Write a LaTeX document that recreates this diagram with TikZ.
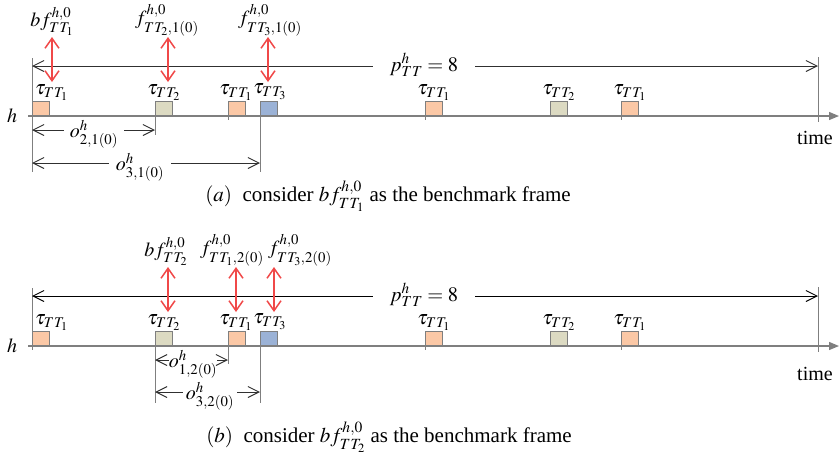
\documentclass[tikz,border=0pt]{standalone}
\usepackage{mathptmx}
\usepackage[no-math]{fontspec}
\setmainfont{Liberation Serif}
\usetikzlibrary{arrows.meta}
\definecolor{peach}{HTML}{FBC8A6}
\definecolor{khaki}{HTML}{DCDAC2}
\definecolor{steel}{HTML}{9BB2D6}
\definecolor{redar}{HTML}{F04848}
\definecolor{axisgray}{HTML}{7F7F7F}
\definecolor{dimcol}{HTML}{303030}
\begin{document}
\begin{tikzpicture}[x=1pt,y=-1pt,
  lbl/.style={font=\fontsize{20}{24}\selectfont,inner sep=1pt},
  biglbl/.style={font=\fontsize{20.5}{24}\selectfont,inner sep=1pt},
  caplbl/.style={font=\fontsize{21}{25}\selectfont,inner sep=1pt},
  axis/.style={draw=axisgray,line width=1.3pt,-{Triangle[length=10pt,width=8pt]}},
  guide/.style={draw=axisgray,line width=0.8pt},
  dim/.style={draw=dimcol,line width=1pt},
  dimL/.style={dim,{Straight Barb[length=11pt,width=11pt]}-},
  dimR/.style={dim,-{Straight Barb[length=11pt,width=11pt]}},
  redarr/.style={draw=redar,line width=1.5pt,{Straight Barb[length=10pt,width=14pt]}-{Straight Barb[length=10pt,width=14pt]}},
  taskbox/.style={draw=axisgray,line width=0.8pt,minimum width=17pt,minimum height=14pt,inner sep=0pt,anchor=south west},
  tlbl/.style={lbl,anchor=south}
]
\useasboundingbox (0,0) rectangle (839,456);

% ================= panel (a) =================
\node[lbl] (ah) at (12,116) {$h$};
\coordinate (aax0) at (28,116);
\coordinate (aax1) at (839,116);
\draw[axis] (aax0) -- (aax1);
\node[lbl] (atime) at (815,138) {time};

\node[taskbox,fill=peach] (a1) at (32,116) {};
\node[taskbox,fill=khaki] (a2) at (155,116) {};
\node[taskbox,fill=peach] (a3) at (228,116) {};
\node[taskbox,fill=steel] (a4) at (260,116) {};
\node[taskbox,fill=peach] (a5) at (425,116) {};
\node[taskbox,fill=khaki] (a6) at (550,116) {};
\node[taskbox,fill=peach] (a7) at (621,116) {};

\node[lbl,anchor=south west] (at1) at ([xshift=2pt]a1.north west) {$\tau_{TT_1}$};
\node[tlbl] (at2) at (a2.north) {$\tau_{TT_2}$};
\node[tlbl] (at3) at ([xshift=-1pt]a3.north) {$\tau_{TT_1}$};
\node[tlbl] (at4) at ([xshift=1pt]a4.north) {$\tau_{TT_3}$};
\node[tlbl] (at5) at (a5.north) {$\tau_{TT_1}$};
\node[tlbl] (at6) at (a6.north) {$\tau_{TT_2}$};
\node[tlbl] (at7) at (a7.north) {$\tau_{TT_1}$};

% guides
\coordinate (agL0) at (32,58);  \coordinate (agL1) at (32,172);
\coordinate (agR0) at (818,57); \coordinate (agR1) at (818,122);
\coordinate (ag2) at (155,135);
\coordinate (ag4) at (260,172);
\draw[guide] (agL0) -- (agL1);
\draw[guide] (agR0) -- (agR1);
\draw[guide] (a2.south west) -- (ag2);
\draw[guide] (a4.south west) -- (ag4);
\draw[guide] (a3.south west) -- ++(0,4);
\draw[guide] (a5.south west) -- ++(0,4);
\draw[guide] (a7.south west) -- ++(0,4);

% period
\coordinate (apL) at (32,66);
\coordinate (apR) at (818,66);
\node[biglbl,inner xsep=17pt] (ap) at (424,65) {$p^{h}_{TT}=8$};
\draw[dimL] (apL) -- (ap.west |- apL);
\draw[dimR] (ap.east |- apR) -- (apR);

% red arrows and frame labels
\coordinate (ar1t) at (52,37);  \coordinate (ar1b) at (52,82);
\coordinate (ar2t) at (168,37); \coordinate (ar2b) at (168,82);
\coordinate (ar3t) at (268,37); \coordinate (ar3b) at (268,82);
\draw[redarr] (ar1t) -- (ar1b);
\draw[redarr] (ar2t) -- (ar2b);
\draw[redarr] (ar3t) -- (ar3b);
\node[lbl,anchor=south] (af1) at (ar1t) {$bf^{h,0}_{TT_1}$};
\node[lbl,anchor=south] (af2) at (167,37) {$f^{h,0}_{TT_2,1(0)}$};
\node[lbl,anchor=south] (af3) at (270,37) {$f^{h,0}_{TT_3,1(0)}$};

% offsets
\coordinate (ao1L) at (32,130); \coordinate (ao1R) at (155,130);
\node[lbl,inner xsep=6pt] (ao1) at (94,134) {$o^{h}_{2,1(0)}$};
\draw[dimL] (ao1L) -- (ao1.west |- ao1L);
\draw[dimR] (ao1.east |- ao1R) -- (ao1R);
\coordinate (ao2L) at (32,163); \coordinate (ao2R) at (260,163);
\node[lbl,inner xsep=7pt] (ao2) at (140,167) {$o^{h}_{3,1(0)}$};
\draw[dimL] (ao2L) -- (ao2.west |- ao2L);
\draw[dimR] (ao2.east |- ao2R) -- (ao2R);

\node[caplbl] (acap) at (388,196) {$(a)$\ \ consider $bf^{h,0}_{TT_1}$ as the benchmark frame};

% ================= panel (b) =================
\node[lbl] (bh) at (12,346) {$h$};
\coordinate (bax0) at (28,346);
\coordinate (bax1) at (839,346);
\draw[axis] (bax0) -- (bax1);
\node[lbl] (btime) at (815,374) {time};

\node[taskbox,fill=peach] (b1) at (32,346) {};
\node[taskbox,fill=khaki] (b2) at (155,346) {};
\node[taskbox,fill=peach] (b3) at (228,346) {};
\node[taskbox,fill=steel] (b4) at (260,346) {};
\node[taskbox,fill=peach] (b5) at (425,346) {};
\node[taskbox,fill=khaki] (b6) at (550,346) {};
\node[taskbox,fill=peach] (b7) at (621,346) {};

\node[lbl,anchor=south west] (bt1) at ([xshift=2pt]b1.north west) {$\tau_{TT_1}$};
\node[tlbl] (bt2) at (b2.north) {$\tau_{TT_2}$};
\node[tlbl] (bt3) at ([xshift=-1pt]b3.north) {$\tau_{TT_1}$};
\node[tlbl] (bt4) at ([xshift=1pt]b4.north) {$\tau_{TT_3}$};
\node[tlbl] (bt5) at (b5.north) {$\tau_{TT_1}$};
\node[tlbl] (bt6) at (b6.north) {$\tau_{TT_2}$};
\node[tlbl] (bt7) at (b7.north) {$\tau_{TT_1}$};

\coordinate (bgL0) at (32,288);  \coordinate (bgL1) at (32,350);
\coordinate (bgR0) at (818,287); \coordinate (bgR1) at (818,352);
\coordinate (bg2) at (155,403);
\coordinate (bg3) at (228,364);
\coordinate (bg4) at (260,403);
\draw[guide] (bgL0) -- (bgL1);
\draw[guide] (bgR0) -- (bgR1);
\draw[guide] (b2.south west) -- (bg2);
\draw[guide] (b3.south west) -- (bg3);
\draw[guide] (b4.south west) -- (bg4);
\draw[guide] (b5.south west) -- ++(0,4);
\draw[guide] (b7.south west) -- ++(0,4);

\coordinate (bpL) at (32,296);
\coordinate (bpR) at (818,296);
\node[biglbl,inner xsep=17pt] (bp) at (424,295) {$p^{h}_{TT}=8$};
\draw[dimL,draw=black] (bpL) -- (bp.west |- bpL);
\draw[dimR,draw=black] (bp.east |- bpR) -- (bpR);

\coordinate (br1t) at (168,267); \coordinate (br1b) at (168,312);
\coordinate (br2t) at (236,267); \coordinate (br2b) at (236,312);
\coordinate (br3t) at (274,267); \coordinate (br3b) at (274,312);
\draw[redarr] (br1t) -- (br1b);
\draw[redarr] (br2t) -- (br2b);
\draw[redarr] (br3t) -- (br3b);
\node[lbl,anchor=south] (bf1) at (166,267) {$bf^{h,0}_{TT_2}$};
\node[lbl,anchor=south] (bf2) at (232,267) {$f^{h,0}_{TT_1,2(0)}$};
\node[lbl,anchor=south] (bf3) at (300,267) {$f^{h,0}_{TT_3,2(0)}$};

\coordinate (bo1L) at (155,360); \coordinate (bo1R) at (228,360);
\node[lbl,inner xsep=0pt] (bo1) at (193,364) {$o^{h}_{1,2(0)}$};
\draw[dimL] (bo1L) -- (bo1.west |- bo1L);
\draw[dimR] (bo1.east |- bo1R) -- (bo1R);
\coordinate (bo2L) at (155,392); \coordinate (bo2R) at (260,392);
\node[lbl,inner xsep=3pt] (bo2) at (210,396) {$o^{h}_{3,2(0)}$};
\draw[dimL] (bo2L) -- (bo2.west |- bo2L);
\draw[dimR] (bo2.east |- bo2R) -- (bo2R);

\node[caplbl] (bcap) at (389,437) {$(b)$\ \ consider $bf^{h,0}_{TT_2}$ as the benchmark frame};
\end{tikzpicture}
\end{document}
